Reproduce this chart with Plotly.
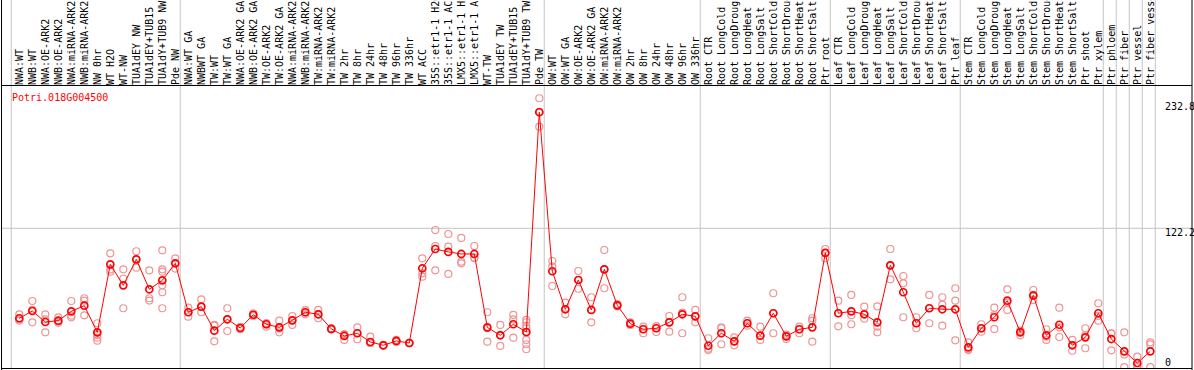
import plotly.graph_objects as go

labels = [
    "NWA:WT", "NWB:WT", "NWA:OE-ARK2", "NWB:OE-ARK2", "NWA:miRNA-ARK2", "NWB:miRNA-ARK2",
    "NW 0hr", "WT H2O", "WT-NW", "TUA1dEY NW", "TUA1dEY+TUB15", "TUA1dY+TUB9 NW", "Pde NW",
    "NWA:WT GA", "NWBWT GA", "TW:WT", "TW:WT GA", "NWA:OE-ARK2 GA", "NWB:OE-ARK2 GA",
    "TW:OE-ARK2", "TW:OE-ARK2 GA", "NWA:miRNA-ARK2", "NWB:miRNA-ARK2", "TW:miRNA-ARK2",
    "TW:miRNA-ARK2", "TW 2hr", "TW 8hr", "TW 24hr", "TW 48hr", "TW 96hr", "TW 336hr",
    "WT ACC", "35S::etr1-1 H2O", "35S::etr1-1 ACC", "LMX5::etr1-1 H2O", "LMX5::etr1-1 ACC",
    "WT-TW", "TUA1dEY TW", "TUA1dEY+TUB15", "TUA1dY+TUB9 TW", "Pde TW",
    "OW:WT", "OW:WT GA", "OW:OE-ARK2", "OW:OE-ARK2 GA", "OW:miRNA-ARK2", "OW:miRNA-ARK2",
    "OW 2hr", "OW 8hr", "OW 24hr", "OW 48hr", "OW 96hr", "OW 336hr",
    "Root CTR", "Root LongCold", "Root LongDrought", "Root LongHeat", "Root LongSalt",
    "Root ShortCold", "Root ShortDrought", "Root ShortHeat", "Root ShortSalt", "Ptr root",
    "Leaf CTR", "Leaf LongCold", "Leaf LongDrought", "Leaf LongHeat", "Leaf LongSalt",
    "Leaf ShortCold", "Leaf ShortDrought", "Leaf ShortHeat", "Leaf ShortSalt", "Ptr leaf",
    "Stem CTR", "Stem LongCold", "Stem LongDrought", "Stem LongHeat", "Stem LongSalt",
    "Stem ShortCold", "Stem ShortDrought", "Stem ShortHeat", "Stem ShortSalt", "Ptr shoot",
    "Ptr xylem", "Ptr phloem", "Ptr fiber", "Ptr vessel", "Ptr fiber vessel",
]

means = [
    43.0, 49.4, 39.7, 40.9, 49.1, 54.1, 30.6, 90.5, 72.0, 94.9,
    68.5, 76.4, 91.4, 48.3, 53.2, 32.1, 42.1, 34.4, 46.1, 37.7,
    35.0, 41.2, 48.3, 46.5, 33.6, 27.4, 29.8, 22.1, 19.2, 23.0,
    21.2, 87.0, 104.0, 101.4, 99.6, 99.6, 35.0, 28.0, 37.7, 30.9,
    224.4, 84.4, 50.9, 76.7, 50.3, 86.1, 54.4, 38.2, 33.3, 34.2,
    39.4, 46.5, 44.7, 18.8, 29.8, 22.7, 38.6, 27.7, 47.4, 27.1,
    33.3, 35.0, 100.5, 47.4, 49.1, 46.5, 39.4, 89.6, 65.9, 38.6,
    51.8, 50.9, 50.9, 17.4, 34.2, 43.9, 58.5, 30.6, 63.2, 28.0,
    37.3, 19.2, 26.2, 47.4, 24.7, 13.9, 3.6, 13.9,
]

replicates = [
    [46.5, 42.0, 41.0], [58.2, 39.4, 50.5], [46.5, 30.6, 42.0], [43.8, 40.0, 39.0],
    [58.2, 43.8, 45.3], [60.6, 58.5, 45.6], [38.6, 28.3, 25.9, 23.3], [100.2, 86.0, 84.0],
    [86.1, 77.8, 51.8], [102.0, 94.5, 87.5], [85.2, 60.6, 58.6],
    [102.8, 86.1, 84.0, 72.0, 65.9, 51.8], [95.8, 91.4, 86.7], [52.3, 48.3, 44.4],
    [59.7, 53.0, 48.3], [37.1, 36.5, 22.7], [51.8, 42.1, 31.8], [35.5, 34.0, 33.3],
    [47.4, 46.0, 45.0], [38.7, 37.5, 35.6], [40.9, 34.0, 30.6], [45.0, 41.2, 37.1],
    [50.2, 46.5, 48.0], [50.3, 43.0, 46.5], [34.2, 33.0, 33.6], [28.2, 23.9, 29.0],
    [35.0, 24.5, 29.8], [26.8, 21.0, 22.1], [19.5, 18.9, 19.2], [24.0, 22.2, 23.0],
    [21.2, 21.0, 21.4], [95.8, 82.6, 79.6], [120.7, 106.6, 85.2], [117.2, 106.0, 82.0],
    [113.7, 92.8, 91.4], [106.6, 96.3, 96.0], [48.3, 34.3, 22.4], [37.1, 28.3, 18.6],
    [45.9, 42.0, 25.9], [41.5, 39.5, 36.5, 34.2, 30.6, 23.9, 20.1, 15.7],
    [236.7, 224.8, 211.7], [93.4, 88.5, 71.4], [56.7, 50.9, 46.5], [84.6, 76.7, 69.0],
    [61.5, 50.3, 39.4], [103.1, 86.1, 69.4], [55.5, 54.4, 53.5], [37.0, 39.5, 38.2],
    [35.6, 29.8, 33.3], [36.0, 30.9, 34.2], [45.0, 39.4, 31.2], [61.5, 48.0, 29.8],
    [50.3, 44.7, 39.4], [25.4, 16.2, 15.0], [34.2, 35.0, 20.1], [26.2, 22.7, 19.2],
    [40.9, 38.6, 36.5], [35.6, 27.7, 23.9], [65.0, 47.4, 29.8], [28.5, 24.7, 27.1],
    [35.6, 29.8, 33.3], [43.0, 40.9, 22.4], [104.0, 100.5, 95.8], [58.5, 47.4, 35.9],
    [63.5, 45.6, 37.7], [53.2, 46.5, 42.6], [53.5, 35.5, 30.6], [104.0, 89.6, 77.3],
    [80.2, 73.8, 43.9], [43.9, 38.6, 34.2], [63.5, 51.8, 38.6], [61.5, 55.0, 36.5],
    [69.4, 58.5, 23.6], [21.8, 15.7, 15.0], [37.7, 33.8, 31.2], [52.3, 45.7, 33.6],
    [68.5, 56.8, 50.3], [32.1, 28.0, 31.7], [67.9, 62.6, 59.1], [33.3, 26.8, 23.9],
    [52.3, 35.0, 26.5], [23.9, 19.3, 14.4], [34.2, 27.8, 16.6], [56.2, 45.1, 40.9],
    [29.8, 29.5, 14.8], [30.6, 11.0, 0.0], [9.2, 1.6, 0.0], [21.8, 20.0, 0.0],
]

group_starts = [0, 13, 41, 53, 63, 73, 84, 85, 86, 87, 88]
y_ticks = [0, 122.2, 232.8]
y_tick_text = ["0", "122.2", "232.8"]
gene = "Potri.018G004500"

W, H = 1194, 370
ML, MR, MT, MB = 2, 2, 86, 2
X_RANGE = [-1.331, 90.208]
Y_RANGE = [-0.8, 247.5]
FONT = "DejaVu Sans Mono"

idx = list(range(len(labels)))
rep_x = [i for i, r in enumerate(replicates) for _ in r]
rep_y = [v for r in replicates for v in r]

fig = go.Figure()
fig.add_trace(go.Scatter(
    x=rep_x, y=rep_y, mode="markers", hoverinfo="skip",
    marker=dict(symbol="circle-open", size=7, color="#ee9494", line=dict(width=1.2)),
))
fig.add_trace(go.Scatter(
    x=idx, y=means, mode="lines+markers",
    line=dict(color="#ff0000", width=1),
    marker=dict(symbol="circle-open", size=7, color="#ff0000", line=dict(width=1.7)),
))

def xpaper(v):
    return (v - X_RANGE[0]) / (X_RANGE[1] - X_RANGE[0])

shapes = []
for s in group_starts:
    xp = xpaper(s - 0.62)
    shapes.append(dict(type="line", xref="paper", yref="paper", x0=xp, x1=xp, y0=0, y1=1.5,
                       line=dict(color="#c4c4c4", width=1), layer="below"))
shapes.append(dict(type="line", xref="paper", yref="y", x0=0, x1=1, y0=y_ticks[1], y1=y_ticks[1],
                   line=dict(color="#c4c4c4", width=1), layer="below"))
# frame
shapes.append(dict(type="line", xref="paper", yref="paper", x0=-0.0004, x1=-0.0004, y0=-0.01, y1=1.5,
                   line=dict(color="black", width=1)))
shapes.append(dict(type="line", xref="paper", yref="paper", x0=1, x1=1, y0=-0.01, y1=1.5,
                   line=dict(color="black", width=1)))
shapes.append(dict(type="line", xref="paper", yref="paper", x0=0, x1=1, y0=1.0018, y1=1.0018,
                   line=dict(color="black", width=1)))
shapes.append(dict(type="line", xref="paper", yref="paper", x0=0, x1=1, y0=-0.0018, y1=-0.0018,
                   line=dict(color="black", width=1)))

annotations = [dict(text=gene, xref="paper", yref="paper", x=(9.5 - ML) / (W - ML - MR), y=1 - 11 / (H - MT - MB),
                    xanchor="left", yanchor="middle", showarrow=False,
                    font=dict(family=FONT, size=10, color="#ff0000"))]
for v, t in zip(y_ticks, y_tick_text):
    annotations.append(dict(text=t, xref="paper", yref="y", x=(1163 - ML) / (W - ML - MR), y=v,
                            xanchor="left", yanchor="middle", yshift=(5 if v == 0 else -4), showarrow=False,
                            font=dict(family=FONT, size=10, color="black")))

fig.update_layout(
    width=W, height=H, margin=dict(l=ML, r=MR, t=MT, b=MB),
    paper_bgcolor="white", plot_bgcolor="rgba(0,0,0,0)",
    showlegend=False, shapes=shapes, annotations=annotations,
    xaxis=dict(range=X_RANGE, side="top", tickmode="array", tickvals=idx, ticktext=labels,
               tickangle=-90, tickfont=dict(family=FONT, size=10, color="black"),
               showgrid=False, zeroline=False, showline=False, ticks="", automargin=False),
    yaxis=dict(range=Y_RANGE, showticklabels=False, showgrid=False, zeroline=False,
               showline=False, automargin=False),
)

fig.write_html("out.html", config={"displayModeBar": False},
               post_script="document.body.style.margin='0';document.body.style.overflow='hidden';")
